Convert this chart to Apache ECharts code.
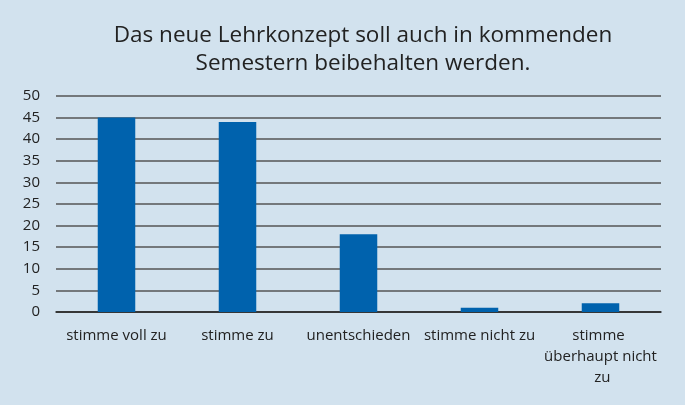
<!DOCTYPE html>
<html>
<head>
<meta charset="utf-8">
<script src="https://cdn.jsdelivr.net/npm/echarts@6/dist/echarts.min.js"></script>
<style>
  html, body { margin: 0; padding: 0; background: #d2e2ee; }
  #chart { width: 685px; height: 405px; }
</style>
</head>
<body>
<div id="chart"></div>
<script>
const categories = ["stimme voll zu", "stimme zu", "unentschieden", "stimme nicht zu", "stimme überhaupt nicht zu"];
const values = [45, 44, 18, 1, 2];
const yTicks = { min: 0, max: 50, interval: 5 };

const chart = echarts.init(document.getElementById("chart"));
chart.setOption({
  backgroundColor: "#d2e2ee",
  animation: false,
  textStyle: { fontFamily: "Open Sans" },
  title: {
    text: "Das neue Lehrkonzept soll auch in kommenden\nSemestern beibehalten werden.",
    left: 358,
    top: 17,
    textAlign: "center",
    textStyle: {
      fontFamily: "Open Sans",
      fontSize: 22.5,
      fontWeight: "normal",
      color: "#222",
      lineHeight: 28
    }
  },
  grid: { left: 56, right: 24, top: 96, bottom: 93 },
  xAxis: {
    type: "category",
    data: categories,
    axisTick: { show: false },
    axisLine: { lineStyle: { color: "#222", width: 1.5 } },
    axisLabel: {
      color: "#222",
      fontSize: 15,
      margin: 13,
      lineHeight: 21,
      width: 122,
      overflow: "break",
      interval: 0
    }
  },
  yAxis: {
    type: "value",
    min: yTicks.min,
    max: yTicks.max,
    interval: yTicks.interval,
    axisLabel: { color: "#222", fontSize: 15, margin: 16 },
    splitLine: { lineStyle: { color: "#555", width: 1.5 } }
  },
  series: [{
    type: "bar",
    data: values,
    barWidth: "31%",
    itemStyle: { color: "#0062ad" }
  }]
});
</script>
</body>
</html>
